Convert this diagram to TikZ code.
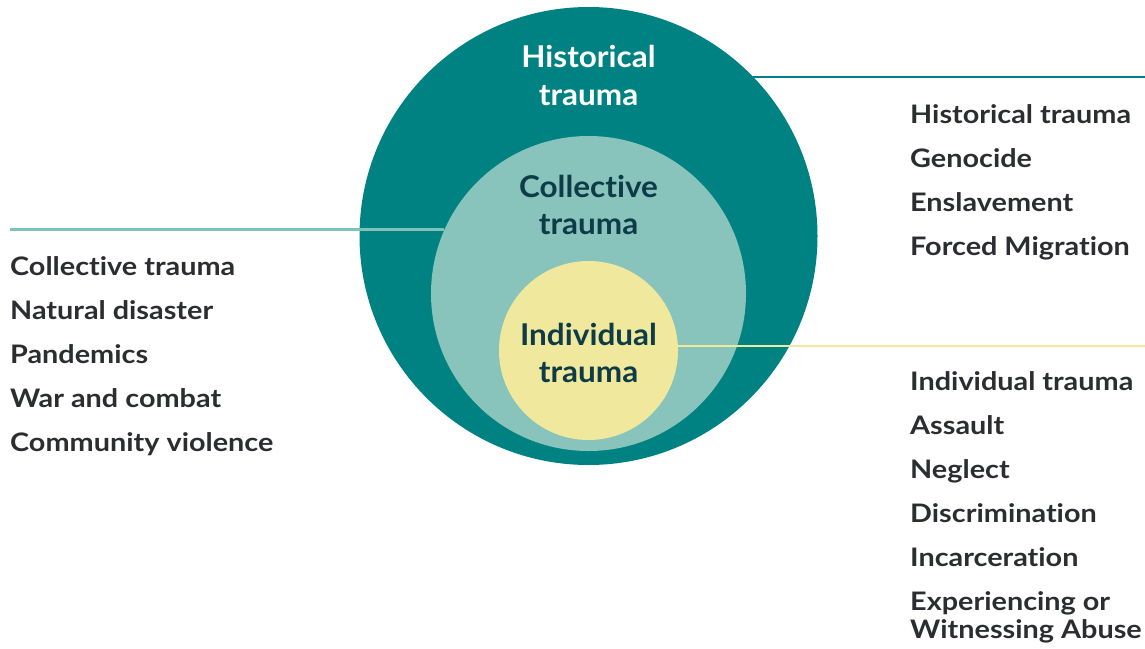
\documentclass[tikz,border=0pt]{standalone}
\usepackage{fontspec}
\setmainfont{Lato}[Ligatures=NoCommon]
\newfontfamily\listfont{Lato}[Ligatures=NoCommon,FakeStretch=1.13]
\newfontfamily\ringfont{Lato}[Ligatures=NoCommon,FakeStretch=1.05]
\definecolor{histteal}{HTML}{008282}
\definecolor{collteal}{HTML}{88C4BB}
\definecolor{collline}{HTML}{7CC4B8}
\definecolor{indyellow}{HTML}{F0E89C}
\definecolor{indline}{HTML}{F0E89C}
\definecolor{labelnavy}{HTML}{0E3B48}
\definecolor{listgray}{HTML}{2B2D30}
\begin{document}
\begin{tikzpicture}[x=1pt,y=-1pt,
  ring/.style={circle,inner sep=0pt,draw=none},
  ringlabel/.style={font=\ringfont\bfseries\fontsize{30}{34}\selectfont,inner sep=0pt,anchor=base},
  listhead/.style={font=\listfont\bfseries\fontsize{25.5}{28}\selectfont,text=listgray,inner sep=0pt,anchor=base west},
  listitem/.style={font=\listfont\bfseries\fontsize{25.5}{28}\selectfont,text=listgray,inner sep=0pt,anchor=base west},
  leader/.style={line width=2.5pt}]
\useasboundingbox (0,0) rectangle (1145,648);

% nested circles
\node[ring,fill=histteal,minimum size=458pt] (outer) at (588.5,236) {};
\node[ring,fill=collteal,minimum size=315pt] (middle) at (588.5,293.5) {};
\node[ring,fill=indyellow,minimum size=179pt] (inner) at (588.5,350.5) {};

% circle labels
\node[ringlabel,text=white] (hl1) at (588.5,67) {Historical};
\node[ringlabel,text=white] (hl2) at (588.5,105) {trauma};
\node[ringlabel,text=labelnavy] (cl1) at (588.5,197) {Collective};
\node[ringlabel,text=labelnavy] (cl2) at (588.5,234) {trauma};
\node[ringlabel,text=labelnavy] (il1) at (588.5,345) {Individual};
\node[ringlabel,text=labelnavy] (il2) at (588.5,382) {trauma};

% leader lines
\coordinate (hend) at (1145,77);
\coordinate (cend) at (10,230);
\coordinate (iend) at (1145,345);
\draw[leader,draw=histteal] (outer.44) -- (outer.44 -| hend);
\draw[leader,draw=collline] (middle.156) -- (middle.156 -| cend);
\draw[leader,draw=indline] (inner.3.5) -- (inner.3.5 -| iend);

% collective trauma list
\node[listhead] (ch) at (10,275) {Collective trauma};
\node[listitem] (c1) at (10,319) {Natural disaster};
\node[listitem] (c2) at (10,363) {Pandemics};
\node[listitem] (c3) at (10,407) {War and combat};
\node[listitem] (c4) at (10,451) {Community violence};

% historical trauma list
\node[listhead] (hh) at (910,123) {Historical trauma};
\node[listitem] (h1) at (910,167) {Genocide};
\node[listitem] (h2) at (910,211) {Enslavement};
\node[listitem] (h3) at (910,255) {Forced Migration};

% individual trauma list
\node[listhead] (ih) at (910,390) {Individual trauma};
\node[listitem] (i1) at (910,434) {Assault};
\node[listitem] (i2) at (910,478) {Neglect};
\node[listitem] (i3) at (910,522) {Discrimination};
\node[listitem] (i4) at (910,566) {Incarceration};
\node[listitem] (i5) at (910,610) {Experiencing or};
\node[listitem] (i6) at (910,638) {Witnessing Abuse};
\end{tikzpicture}
\end{document}
